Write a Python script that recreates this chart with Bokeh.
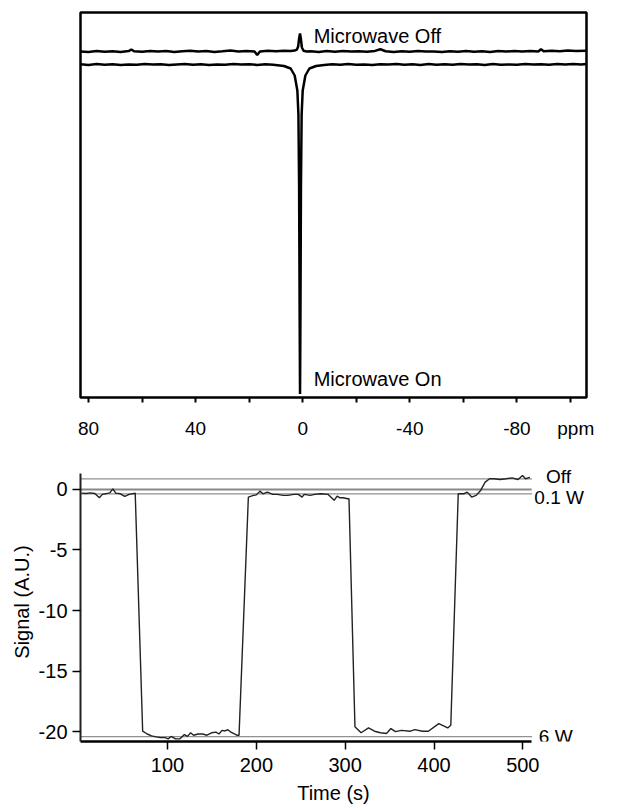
from bokeh.plotting import figure
from bokeh.models import Range1d, FixedTicker
from bokeh.layouts import column
from bokeh.core.properties import value
from bokeh.embed import file_html
from bokeh.resources import INLINE

FONT = "Liberation Sans"

# ---------------- top panel: NMR spectra (ppm, arbitrary intensity) ----------------
off_ppm = [83, 80, 77, 74, 71, 68, 65, 64, 63, 60, 57, 54, 51, 48, 45, 42, 39, 36, 33, 30,
           27, 24, 21, 18, 17, 16, 13, 10, 7, 4.5, 3, 2.2, 1.7, 1.3, 1.0, 0.7, 0.3, -0.3,
           -1.5, -3, -6, -9, -12, -15, -18, -21, -24, -27, -29, -31, -34, -37, -40, -43,
           -46, -49, -52, -55, -58, -61, -64, -67, -70, -73, -76, -79, -82, -85, -88, -89,
           -90, -93, -96, -99, -102, -106]
off_int = [346.0, 345.5, 346.5, 345.8, 346.3, 345.6, 346.4, 348.0, 346.2, 345.7, 346.6, 345.9,
           346.4, 345.5, 346.3, 346.8, 345.9, 346.5, 345.6, 346.2, 346.9, 346.1, 346.6, 346.0,
           342.5, 346.1, 346.7, 346.2, 346.8, 346.4, 346.9, 347.8, 351.0, 360.0, 364.0, 359.0,
           350.0, 346.8, 346.0, 346.3, 345.6, 346.4, 345.8, 346.5, 345.9, 346.3, 345.7, 346.6,
           348.2, 346.3, 345.6, 346.2, 345.8, 346.5, 345.9, 346.1, 345.5, 346.3, 345.8, 346.4,
           345.7, 346.2, 345.6, 346.4, 346.0, 346.5, 345.9, 346.6, 346.0, 348.3, 346.3, 346.8,
           346.2, 346.9, 346.4, 346.8]

on_ppm = [83, 80, 77, 74, 71, 68, 65, 62, 59, 56, 53, 50, 47, 44, 41, 38, 35, 32, 29, 26,
          23, 20, 17, 14, 11, 7, 4.5, 3, 2, 1.6, 1.35, 1.15, 1.0, 0.85, 0.65, 0.4, 0.0, -1.0,
          -2.5, -5, -8, -11, -14, -17, -20, -23, -26, -29, -32, -35, -38, -41, -44, -47,
          -50, -53, -56, -59, -62, -65, -68, -71, -74, -77, -80, -83, -86, -89, -92, -95,
          -98, -101, -104, -106]
on_int = [333.2, 332.6, 333.4, 332.8, 333.3, 332.5, 333.1, 332.7, 333.5, 332.9, 333.2, 332.4,
          333.0, 333.6, 332.8, 333.3, 332.6, 333.1, 332.7, 333.4, 332.9, 333.3, 332.6, 333.2,
          332.8, 331.5, 329.0, 322.0, 307.0, 283.0, 213.0, 83.0, 3.4, 83.0, 213.0, 283.0,
          307.0, 322.0, 329.0, 331.5, 332.6, 333.3, 332.7, 333.4, 332.8, 333.1, 332.5, 333.3,
          332.9, 333.5, 332.7, 333.2, 332.6, 333.4, 332.8, 333.3, 332.7, 333.5, 332.9, 333.2,
          332.6, 333.4, 332.8, 333.1, 332.7, 333.5, 332.9, 333.3, 332.8, 333.6, 333.0, 333.4,
          332.9, 333.5]

ppm_tick_marks = [80, 60, 40, 20, 0, -20, -40, -60, -80, -100]
ppm_label_pos = [80, 40, 0, -40, -80, -102]
ppm_label_txt = ["80", "40", "0", "-40", "-80", "ppm"]

# ---------------- bottom panel: signal vs time ----------------
time_s = [3, 8.1, 13.1, 18.2, 23.2, 26.6, 31.6, 35.0, 38.4, 41.7, 46.8, 51.8, 56.9, 61.9, 63.6,
          72.0, 77.1, 82.0, 87.2, 92.0, 97.3, 100.7, 104.0, 109.0, 114.0, 119.0, 122.5, 126.0,
          129.3, 134.3, 139.4, 144.4, 149.5, 154.5, 157.9, 161.3, 164.6, 168.0, 171.4, 178.0,
          180.5, 191.0, 196.7, 200.0, 204.0, 207.4, 212.4, 218.5, 223.5, 230.3, 235.4, 242.1,
          247.2, 251.5, 253.8, 260.6, 265.7, 272.4, 280.8, 287.6, 290.9, 294.2, 297.7, 302.7,
          304.3, 311.0, 317.9, 326.3, 333.0, 339.7, 346.5, 351.5, 356.6, 363.3, 373.4, 378.5,
          386.9, 393.6, 405.4, 415.5, 418.9, 427.3, 434.0, 437.4, 442.4, 447.5, 452.5, 457.6,
          462.6, 467.7, 474.4, 481.1, 487.9, 494.6, 499.7, 503.0, 508.0]
signal = [-0.30, -0.34, -0.28, -0.34, -0.69, -0.41, -0.34, -0.28, 0.05, -0.30, -0.36, -0.58,
          -0.41, -0.34, -0.30,
          -19.97, -20.2, -20.35, -20.44, -20.5, -20.5, -20.6, -20.4, -20.6, -20.6, -20.25,
          -20.4, -20.1, -20.3, -20.2, -20.2, -20.3, -20.1, -20.05, -20.2, -19.9, -19.95,
          -19.85, -20.05, -20.3, -20.3,
          -0.63, -0.49, -0.45, -0.14, -0.36, -0.22, -0.41, -0.41, -0.49, -0.49, -0.41, -0.41,
          -0.63, -0.41, -0.49, -0.41, -0.36, -0.41, -0.90, -0.55, -0.69, -0.69, -0.77, -0.77,
          -19.6, -20.1, -19.7, -19.97, -20.1, -20.16, -19.75, -20.0, -19.9, -19.97, -19.84,
          -19.97, -19.97, -19.34, -19.7, -19.48,
          -0.35, -0.35, -0.22, -0.63, -0.49, -0.08, 0.60, 0.88, 0.88, 0.82, 0.88, 0.96, 0.82,
          1.15, 0.88, 1.00]

level_names = ["Off", "0.1 W", "6 W"]
level_values = [0.88, -0.36, -20.42]
level_label_dy = [0.2, -0.3, 0.0]
level_label_t = [526, 513, 518]
time_ticks = [100, 200, 300, 400, 500]
signal_ticks = [0, -5, -10, -15, -20]
time_min, time_max = 2, 510
signal_min, signal_max = -20.82, 1.32

# ================= top figure =================
p1 = figure(width=643, height=444, x_range=Range1d(83, -106), y_range=Range1d(0, 385),
            output_backend="svg", toolbar_location=None,
            min_border_left=80, min_border_right=57, min_border_top=12, min_border_bottom=47)
p1.grid.visible = False
p1.yaxis.visible = False
p1.outline_line_color = "black"
p1.outline_line_width = 2.5
p1.outline_line_alpha = 1.0

ax = p1.xaxis[0]
ax.ticker = FixedTicker(ticks=ppm_label_pos, minor_ticks=ppm_tick_marks)
ax.major_label_overrides = dict(zip(ppm_label_pos, ppm_label_txt))
ax.axis_line_color = None
ax.major_tick_out = 0
ax.major_tick_in = 0
ax.minor_tick_out = 5
ax.minor_tick_in = 0
ax.minor_tick_line_width = 2
ax.minor_tick_line_color = "black"
ax.major_label_text_font = FONT
ax.major_label_text_font_size = "19px"
ax.major_label_text_color = "black"
ax.major_label_standoff = 15

p1.line(off_ppm, off_int, line_width=2.5, line_color="black")
p1.line(on_ppm, on_int, line_width=2.5, line_color="black")

p1.text(x=[-4.1, -4.1], y=[361.7, 18.7], text=["Microwave Off", "Microwave On"],
        text_align="left", text_baseline="middle", text_font=value(FONT),
        text_font_size="20px", text_color="black")

# ================= bottom figure =================
px_per_s = 0.99
frame_w = 643 - 79
p2 = figure(width=643, height=362,
            x_range=Range1d(time_min, time_min + frame_w / px_per_s),
            y_range=Range1d(signal_min, signal_max + 11 / 12.15),
            output_backend="svg", toolbar_location=None,
            min_border_left=79, min_border_right=0, min_border_top=18, min_border_bottom=64)
p2.grid.visible = False
p2.outline_line_color = None

xa = p2.xaxis[0]
xa.ticker = FixedTicker(ticks=time_ticks)
xa.major_label_overrides = {t: str(t) for t in time_ticks}
xa.bounds = (time_min, time_max)
xa.axis_line_width = 2.5
xa.axis_line_color = "black"
xa.major_tick_out = 8
xa.major_tick_in = 0
xa.minor_tick_out = 0
xa.minor_tick_in = 0
xa.major_tick_line_width = 1.5
xa.major_label_text_font = FONT
xa.major_label_text_font_size = "20px"
xa.major_label_text_color = "black"
xa.major_label_standoff = 8
xa.axis_label = "Time (s)"
xa.axis_label_text_font = FONT
xa.axis_label_text_font_size = "20px"
xa.axis_label_text_font_style = "normal"
xa.axis_label_text_color = "black"
xa.axis_label_standoff = 7

ya = p2.yaxis[0]
ya.ticker = FixedTicker(ticks=signal_ticks)
ya.major_label_overrides = {t: str(t) for t in signal_ticks}
ya.bounds = (signal_min, signal_max)
ya.axis_line_width = 2
ya.axis_line_color = "#222222"
ya.major_tick_out = 8
ya.major_tick_in = 0
ya.minor_tick_out = 0
ya.minor_tick_in = 0
ya.major_tick_line_width = 1.5
ya.major_label_text_font = FONT
ya.major_label_text_font_size = "20px"
ya.major_label_text_color = "black"
ya.major_label_standoff = 5
ya.axis_label = "Signal (A.U.)"
ya.axis_label_text_font = FONT
ya.axis_label_text_font_size = "20px"
ya.axis_label_text_font_style = "normal"
ya.axis_label_text_color = "black"
ya.axis_label_standoff = 3

p2.segment(x0=[time_min], y0=[0], x1=[time_max], y1=[0], line_color="#888888", line_width=2)
p2.segment(x0=[time_min] * len(level_values), y0=level_values,
           x1=[time_max] * len(level_values), y1=level_values,
           line_color="#222222", line_width=1.2, line_dash="1 1")
p2.line(time_s, signal, line_color="#222222", line_width=1.4)

p2.text(x=level_label_t, y=[v + d for v, d in zip(level_values, level_label_dy)],
        text=level_names, text_align="left", text_baseline="middle",
        text_font=value(FONT), text_font_size="19px", text_color="black")

layout = column(p1, p2)
open("out.html", "w").write(file_html(layout, INLINE))
